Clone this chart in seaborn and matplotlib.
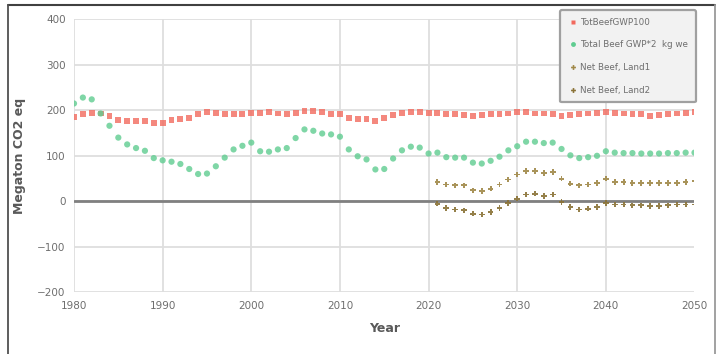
import numpy as np
import pandas as pd
import matplotlib
matplotlib.use("Agg")
import matplotlib.pyplot as plt
from matplotlib.lines import Line2D
import seaborn as sns

# Annual values, Megaton CO2 eq
years = list(range(1980, 2051))
tot_gwp100 = [186, 191, 195, 193, 188, 178, 177, 177, 177, 173,
              173, 178, 181, 184, 191, 197, 195, 192, 191, 192,
              195, 195, 197, 193, 192, 195, 199, 198, 197, 191,
              191, 184, 181, 181, 177, 184, 189, 195, 197, 197,
              195, 195, 192, 191, 189, 187, 189, 192, 192, 193,
              197, 196, 193, 193, 191, 187, 189, 192, 193, 195,
              197, 195, 193, 192, 191, 188, 189, 192, 193, 195,
              197]
tot_gwpstar = [215, 228, 224, 193, 166, 140, 125, 117, 111, 95,
               90, 87, 82, 71, 60, 61, 77, 96, 114, 122,
               129, 110, 109, 114, 117, 139, 158, 155, 149, 147,
               142, 114, 99, 92, 70, 71, 94, 112, 120, 118,
               105, 107, 97, 96, 96, 85, 83, 89, 98, 112,
               121, 131, 131, 128, 129, 115, 101, 95, 97, 100,
               110, 107, 106, 106, 105, 105, 105, 106, 106, 107,
               107]
net_years = list(range(2021, 2051))
net_land1 = [43, 37, 35, 35, 24, 22, 28, 37, 48, 59,
             67, 67, 62, 65, 50, 39, 35, 37, 40, 50,
             42, 42, 41, 41, 40, 40, 41, 41, 42, 44]
net_land2 = [-5, -14, -18, -20, -27, -29, -24, -15, -3, 6,
             15, 17, 11, 15, -1, -12, -18, -16, -12, -3,
             -7, -7, -9, -9, -10, -10, -9, -7, -7, -7]

labels = ["TotBeefGWP100", "Total Beef GWP*2  kg we",
          "Net Beef, Land1", "Net Beef, Land2"]
x_ticks = list(range(1980, 2051, 10))
y_ticks = list(range(-200, 401, 100))

sns.set_theme(style="white")
plt.rcParams["font.family"] = ["DejaVu Sans"]

fig = plt.figure(figsize=(7.21, 3.54), dpi=100)
ax = fig.add_axes([74 / 721, 1 - 292.3 / 354, (694.5 - 74) / 721, (292.3 - 19.3) / 354])

grid_c = "#dedede"
txt_c = "#6e6e6e"
for xv in x_ticks:
    ax.axvline(xv, color=grid_c, lw=1.3, zorder=0)
for yv in y_ticks:
    ax.axhline(yv, color=grid_c, lw=1.3, zorder=0)
ax.plot([1980, 2050], [0, 0], color="#808080", lw=2.0, zorder=1)

red = "#f26a5e"
green = "#5fcc90"
brown = "#a08848"
brown2 = "#8a7236"

df_main = pd.DataFrame({"year": years, "gwp100": tot_gwp100, "gwpstar": tot_gwpstar})
df_net = pd.DataFrame({"year": net_years, "land1": net_land1, "land2": net_land2})

sns.scatterplot(data=df_main, x="year", y="gwp100", ax=ax, marker="s", s=18,
                color=red, alpha=0.8, edgecolor="none", zorder=3, legend=False)
sns.scatterplot(data=df_main, x="year", y="gwpstar", ax=ax, marker="o", s=20,
                color=green, alpha=0.8, edgecolor="none", zorder=3, legend=False)
sns.scatterplot(data=df_net, x="year", y="land1", ax=ax, marker="P", s=17,
                color=brown, alpha=0.9, edgecolor="none", zorder=3, legend=False)
sns.scatterplot(data=df_net, x="year", y="land2", ax=ax, marker="P", s=17,
                color=brown2, alpha=0.9, edgecolor="none", zorder=3, legend=False)

ax.set_xlim(1980, 2050)
ax.set_ylim(-200, 400)
ax.set_xticks(x_ticks)
ax.set_yticks(y_ticks)
ax.tick_params(axis="both", labelsize=7.5, colors=txt_c, length=0, pad=6)
for s in ax.spines.values():
    s.set_visible(False)
ax.set_xlabel("Year", fontsize=9, fontweight="bold", color="#595959", labelpad=8)
ax.set_ylabel("Megaton CO2 eq", fontsize=9, fontweight="bold", color="#595959", labelpad=8)

handles = [
    Line2D([], [], ls="none", marker="s", ms=3.5, color=red, mec="none"),
    Line2D([], [], ls="none", marker="o", ms=3.5, color=green, mec="none"),
    Line2D([], [], ls="none", marker="P", ms=3.5, color=brown, mec="none"),
    Line2D([], [], ls="none", marker="P", ms=3.5, color=brown2, mec="none"),
]
leg = ax.legend(handles, labels, loc="upper right",
                bbox_to_anchor=(696 / 721, 1 - 10 / 354), bbox_transform=fig.transFigure,
                fontsize=6.3, labelcolor=txt_c, frameon=True, facecolor="#f2f2f2",
                edgecolor="#a0a0a0", framealpha=1, labelspacing=1.55,
                handletextpad=0.2, handlelength=1.2, borderpad=0.9, borderaxespad=0)
leg.get_frame().set_linewidth(1.6)
leg.set_zorder(5)

# outer frame around the chart
fig.add_artist(Line2D([8 / 721, 715 / 721], [1 - 5 / 354, 1 - 5 / 354],
                      transform=fig.transFigure, color="#404040", lw=1.5))
fig.add_artist(Line2D([8 / 721, 8 / 721], [0, 1 - 5 / 354],
                      transform=fig.transFigure, color="#505050", lw=1.3))
fig.add_artist(Line2D([715 / 721, 715 / 721], [0, 1 - 5 / 354],
                      transform=fig.transFigure, color="#9a9a9a", lw=1.3))

fig.savefig("out.png", dpi=100)
